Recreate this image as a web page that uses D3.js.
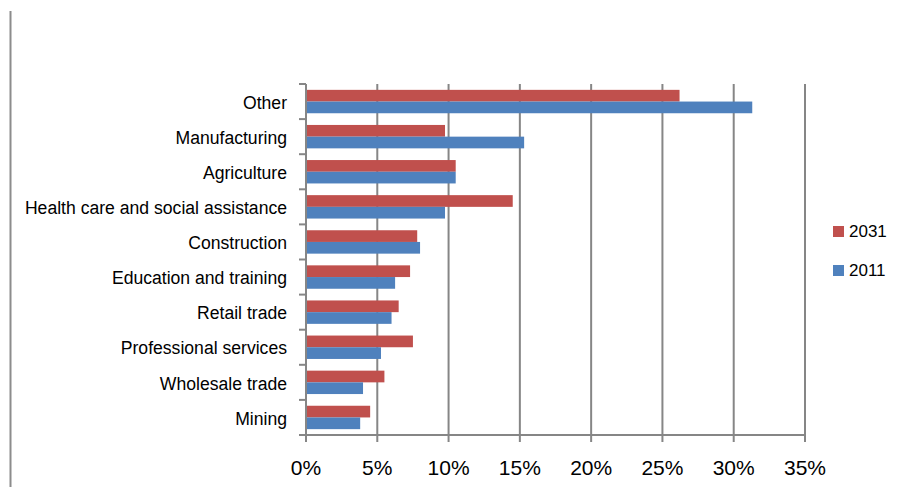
<!DOCTYPE html>
<html>
<head>
<meta charset="utf-8">
<script src="https://cdn.jsdelivr.net/npm/d3@7"></script>
<style>
  body { margin: 0; background: #fff; }
  svg { display: block; font-family: "Liberation Sans", Arial, sans-serif; }
</style>
</head>
<body>
<svg id="chart" width="903" height="487"></svg>
<script>
// categories, top to bottom
const categories = ["Other", "Manufacturing", "Agriculture", "Health care and social assistance",
  "Construction", "Education and training", "Retail trade", "Professional services",
  "Wholesale trade", "Mining"];
const seriesNames = ["2031", "2011"];
const values2031 = [26.2, 9.75, 10.5, 14.5, 7.8, 7.3, 6.5, 7.5, 5.5, 4.5];
const values2011 = [31.3, 15.3, 10.5, 9.75, 8.0, 6.25, 6.0, 5.26, 4.0, 3.8];
const xTicks = [0, 5, 10, 15, 20, 25, 30, 35];
const colors = { "2031": "#C0504D", "2011": "#4F81BD" };

const svg = d3.select("#chart");
const W = 903, H = 487;
const margin = { top: 84, right: 98, bottom: 52, left: 306 };
const grid = "#868686";

// left frame line
svg.append("line")
  .attr("x1", 10.5).attr("x2", 10.5).attr("y1", 11).attr("y2", H)
  .attr("stroke", "#8c8c8c").attr("stroke-width", 2);

const x = d3.scaleLinear().domain([0, 35]).range([margin.left, W - margin.right]);
const y = d3.scaleBand().domain(categories).range([margin.top, H - margin.bottom]).padding(0);
const ySub = d3.scaleBand().domain(seriesNames).range([0, y.bandwidth()]).paddingOuter(0.5).paddingInner(0);

const rows = categories.map((c, i) => ({ cat: c, "2031": values2031[i], "2011": values2011[i] }));

// vertical gridlines
svg.append("g")
  .selectAll("line")
  .data(xTicks.slice(1))
  .join("line")
  .attr("x1", d => x(d)).attr("x2", d => x(d))
  .attr("y1", margin.top).attr("y2", H - margin.bottom + 7)
  .attr("stroke", grid).attr("stroke-width", 2);

// bars
svg.append("g")
  .selectAll("g")
  .data(rows)
  .join("g")
  .attr("transform", d => `translate(0,${y(d.cat)})`)
  .selectAll("rect")
  .data(d => seriesNames.map(s => ({ s, v: d[s] })))
  .join("rect")
  .attr("x", x(0))
  .attr("y", d => ySub(d.s))
  .attr("width", d => x(d.v) - x(0))
  .attr("height", ySub.bandwidth())
  .attr("fill", d => colors[d.s]);

// y axis line + category ticks
const yAxisG = svg.append("g");
yAxisG.append("line")
  .attr("x1", x(0)).attr("x2", x(0))
  .attr("y1", margin.top).attr("y2", H - margin.bottom + 7)
  .attr("stroke", grid).attr("stroke-width", 2);
const catEdges = categories.map(c => y(c)).concat([H - margin.bottom]);
yAxisG.selectAll("line.tick")
  .data(catEdges)
  .join("line")
  .attr("class", "tick")
  .attr("x1", x(0) - 7).attr("x2", x(0))
  .attr("y1", d => d).attr("y2", d => d)
  .attr("stroke", grid).attr("stroke-width", 2);

// category labels
svg.append("g")
  .selectAll("text")
  .data(categories)
  .join("text")
  .attr("x", 287)
  .attr("y", d => y(d) + y.bandwidth() / 2 + 1)
  .attr("dy", "0.35em")
  .attr("text-anchor", "end")
  .attr("font-size", 17.6)
  .attr("fill", "#000")
  .text(d => d);

// x axis
svg.append("line")
  .attr("x1", x(0) - 7).attr("x2", x(35))
  .attr("y1", H - margin.bottom).attr("y2", H - margin.bottom)
  .attr("stroke", grid).attr("stroke-width", 2);

svg.append("g")
  .selectAll("text")
  .data(xTicks)
  .join("text")
  .attr("x", d => x(d))
  .attr("y", 475)
  .attr("text-anchor", "middle")
  .attr("font-size", 21)
  .attr("fill", "#000")
  .text(d => d + "%");

// legend
const legend = svg.append("g");
seriesNames.forEach((s, i) => {
  const ly = 226 + i * 39;
  legend.append("rect")
    .attr("x", 833).attr("y", ly).attr("width", 11).attr("height", 11)
    .attr("fill", colors[s]);
  legend.append("text")
    .attr("x", 849).attr("y", ly + 11)
    .attr("font-size", 17)
    .attr("fill", "#000")
    .text(s);
});
</script>
</body>
</html>
